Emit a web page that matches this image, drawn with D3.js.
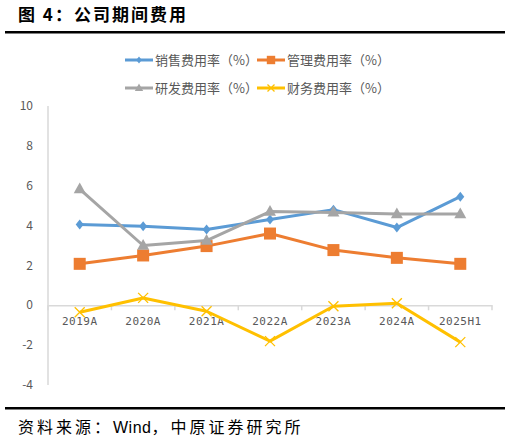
<!DOCTYPE html>
<html>
<head>
<meta charset="utf-8">
<script src="https://cdn.jsdelivr.net/npm/d3@7"></script>
<style>
  body { margin: 0; background: #fff; }
  svg { display: block; font-family: "Noto Sans CJK SC", "Liberation Sans", sans-serif; }
</style>
</head>
<body>
<svg id="chart" width="510" height="441"></svg>
<script>
// data
const categories = ["2019A", "2020A", "2021A", "2022A", "2023A", "2024A", "2025H1"];
const salesRate   = [4.05, 3.97, 3.8, 4.3, 4.8, 3.9, 5.45];
const adminRate   = [2.08, 2.5, 2.97, 3.6, 2.77, 2.38, 2.08];
const rdRate      = [5.83, 3.0, 3.25, 4.7, 4.66, 4.58, 4.58];
const financeRate = [-0.35, 0.37, -0.3, -1.8, -0.05, 0.1, -1.85];
const yTicks = [-4, -2, 0, 2, 4, 6, 8, 10];

const series = [
  { name: "销售费用率（%）", values: salesRate,   color: "#5B9BD5", marker: "diamond" },
  { name: "管理费用率（%）", values: adminRate,   color: "#ED7D31", marker: "square" },
  { name: "研发费用率（%）", values: rdRate,      color: "#A5A5A5", marker: "triangle" },
  { name: "财务费用率（%）", values: financeRate, color: "#FFC000", marker: "cross" }
];

const svg = d3.select("#chart");

// title + rules
svg.append("text")
  .attr("x", 18).attr("y", 21)
  .style("font-size", "17px").style("font-weight", "bold")
  .style("letter-spacing", "2px").style("fill", "#000")
  .text("图 4：公司期间费用");
svg.append("rect").attr("x", 5).attr("y", 31).attr("width", 500).attr("height", 2.5).attr("fill", "#000");
svg.append("rect").attr("x", 5).attr("y", 407).attr("width", 500).attr("height", 2.5).attr("fill", "#000");
const src = svg.append("text")
  .attr("x", 18).attr("y", 433)
  .style("font-size", "16px").style("letter-spacing", "3px").style("fill", "#000");
src.append("tspan").text("资料来源：");
src.append("tspan").style("font-family", "'Liberation Sans', sans-serif").style("letter-spacing", "0.5px").text("Wind");
src.append("tspan").text("，中原证券研究所");

// scales
const x = d3.scaleBand().domain(categories).range([48, 492]);
const y = d3.scaleLinear().domain([-4, 10]).range([385, 106]);

// y axis line
svg.append("line")
  .attr("x1", 48).attr("x2", 48).attr("y1", y(10)).attr("y2", y(-4))
  .attr("stroke", "#D9D9D9").attr("stroke-width", 1.5);

// y tick labels
svg.selectAll(".ytick").data(yTicks).enter().append("text")
  .attr("class", "ytick")
  .attr("x", 33).attr("y", d => y(d)).attr("dy", "0.35em")
  .attr("text-anchor", "end")
  .style("font-size", "12px").style("fill", "#595959")
  .text(d => d);

// x axis on zero
const xAxis = svg.append("g")
  .attr("transform", `translate(0, ${y(0)})`)
  .call(d3.axisBottom(x).tickSize(0).tickPadding(12));
xAxis.select(".domain").attr("stroke", "#D9D9D9").attr("stroke-width", 1.5);
xAxis.selectAll("text")
  .style("font-family", "'DejaVu Sans Mono', monospace")
  .style("font-size", "11px").style("letter-spacing", "0.5px").style("fill", "#595959");
// category boundary ticks
xAxis.selectAll(".bound").data(categories.concat(["end"])).enter().append("line")
  .attr("class", "bound")
  .attr("x1", (d, i) => x.range()[0] + i * x.step())
  .attr("x2", (d, i) => x.range()[0] + i * x.step())
  .attr("y1", 0).attr("y2", 5)
  .attr("stroke", "#D9D9D9").attr("stroke-width", 1.5);

const cx = i => x(categories[i]) + x.bandwidth() / 2;

function drawMarker(g, type, color, px, py, s) {
  if (type === "diamond") {
    g.append("path").attr("d", `M${px},${py - s}L${px + s * 0.8},${py}L${px},${py + s}L${px - s * 0.8},${py}Z`).attr("fill", color);
  } else if (type === "square") {
    g.append("rect").attr("x", px - s).attr("y", py - s).attr("width", 2 * s).attr("height", 2 * s).attr("fill", color);
  } else if (type === "triangle") {
    g.append("path").attr("d", `M${px},${py - s * 1.1}L${px + s},${py + s * 0.7}L${px - s},${py + s * 0.7}Z`).attr("fill", color);
  } else {
    g.append("path").attr("d", `M${px - s},${py - s}L${px + s},${py + s}M${px - s},${py + s}L${px + s},${py - s}`)
      .attr("stroke", color).attr("stroke-width", 1.3).attr("fill", "none");
  }
}

const markerSize = { diamond: 5, square: 6, triangle: 6, cross: 5 };

// series lines + markers, in legend order
series.forEach(s => {
  const line = d3.line().x((d, i) => cx(i)).y(d => y(d));
  const g = svg.append("g");
  g.append("path").datum(s.values)
    .attr("d", line).attr("fill", "none")
    .attr("stroke", s.color).attr("stroke-width", 3).attr("stroke-linejoin", "round");
  s.values.forEach((v, i) => drawMarker(g, s.marker, s.color, cx(i), y(v), markerSize[s.marker]));
});

// legend
const legendPos = [[125, 60], [257, 60], [125, 88], [257, 88]];
series.forEach((s, i) => {
  const [lx, ly] = legendPos[i];
  const g = svg.append("g");
  g.append("line").attr("x1", lx).attr("x2", lx + 28).attr("y1", ly).attr("y2", ly)
    .attr("stroke", s.color).attr("stroke-width", 3);
  drawMarker(g, s.marker, s.color, lx + 14, ly, markerSize[s.marker] * 0.7);
  g.append("text").attr("x", lx + 30).attr("y", ly).attr("dy", "0.35em")
    .style("font-size", "13px").style("fill", "#595959")
    .text(s.name);
});
</script>
</body>
</html>
